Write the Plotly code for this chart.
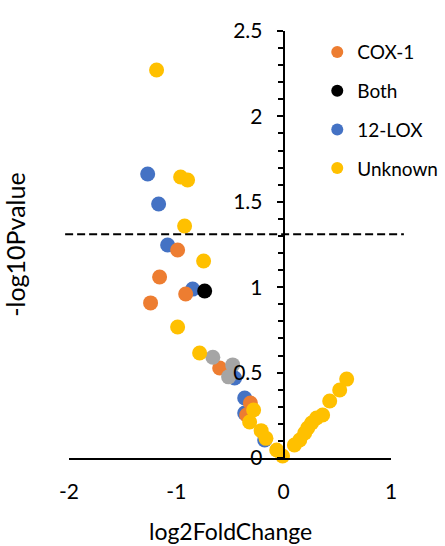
import plotly.graph_objects as go

# ---- data ----
cox1_x = [-0.988, -1.156, -1.240, -0.913, -0.596, -0.310, -0.345]
cox1_y = [1.218, 1.060, 0.908, 0.960, 0.527, 0.322, 0.252]

both_x = [-0.736]
both_y = [0.978]

lox12_x = [-1.267, -1.165, -1.081, -0.848, -0.457, -0.363, -0.363, -0.177]
lox12_y = [1.663, 1.487, 1.247, 0.989, 0.468, 0.351, 0.263, 0.105]

other_x = [-0.660, -0.475, -0.513]
other_y = [0.590, 0.545, 0.475]

unknown_x = [-1.184, -0.960, -0.895, -0.923, -0.746, -0.988, -0.783, -0.280, -0.317,
             -0.210, -0.165, -0.065, -0.010, 0.100, 0.150, 0.196, 0.224, 0.260, 0.306,
             0.363, 0.429, 0.522, 0.587]
unknown_y = [2.272, 1.645, 1.628, 1.358, 1.153, 0.767, 0.615, 0.281, 0.211,
             0.160, 0.115, 0.047, 0.012, 0.076, 0.105, 0.146, 0.176, 0.205, 0.234,
             0.252, 0.334, 0.398, 0.462]

threshold = 1.31
x_ticks = [-2, -1, 0, 1]
x_tick_labels = ["-2", "-1", "0", "1"]
y_ticks = [0, 0.5, 1, 1.5, 2, 2.5]
y_tick_labels = ["0", "0.5", "1", "1.5", "2", "2.5"]

FONT = "Lato, Carlito, 'Liberation Sans', sans-serif"
MS = 15

fig = go.Figure()

def add(x, y, name, color, rank, show=True):
    fig.add_trace(go.Scatter(
        x=x, y=y, mode="markers", name=name,
        marker=dict(size=MS, color=color, line=dict(width=0)),
        legendgroup=name, legendrank=rank, showlegend=show,
        cliponaxis=False,
    ))

add(lox12_x, lox12_y, "12-LOX", "#4472C4", 3)
add(cox1_x, cox1_y, "COX-1", "#ED7D31", 1)
add(both_x, both_y, "Both", "#000000", 2)
add(other_x, other_y, "Other", "#A5A5A5", 5, show=False)
add(unknown_x, unknown_y, "Unknown", "#FFC000", 4)

fig.add_shape(type="line", xref="paper", yref="paper",
              x0=-0.012, x1=1.04, y0=threshold / 2.5, y1=threshold / 2.5,
              line=dict(color="black", width=2, dash="8px,4px"))

fig.update_layout(
    template="none",
    width=445, height=546,
    margin=dict(l=69, r=54, t=31, b=88, autoexpand=False),
    paper_bgcolor="white", plot_bgcolor="white",
    font=dict(family=FONT, color="black"),
    showlegend=True,
    legend=dict(x=0.771, y=0.995, xanchor="left", yanchor="top",
                font=dict(size=19, family=FONT), itemsizing="constant",
                tracegroupgap=11, bgcolor="rgba(0,0,0,0)"),
    xaxis=dict(range=[-2, 1], tickvals=x_ticks, ticktext=x_tick_labels,
               showgrid=False, zeroline=False, automargin=False,
               showline=True, linecolor="black", linewidth=2, ticks="",
               tickfont=dict(size=21), ticklabelstandoff=14),
    yaxis=dict(range=[0, 2.5], tickvals=y_ticks, ticktext=y_tick_labels,
               showgrid=False, zeroline=False, automargin=False,
               showline=True, linecolor="black", linewidth=2,
               anchor="free", position=2/3, side="left",
               ticks="outside", ticklen=6, tickwidth=2, tickcolor="black",
               minor=dict(dtick=0.1, ticks="outside", ticklen=5, tickwidth=2,
                          tickcolor="black", showgrid=False),
               tickfont=dict(size=21), ticklabelstandoff=10),
    annotations=[
        dict(text="log2FoldChange", xref="paper", yref="paper", x=0.5, y=-0.172,
             xanchor="center", yanchor="middle", showarrow=False,
             font=dict(size=23, family=FONT)),
        dict(text="-log10Pvalue", xref="paper", yref="paper", x=-0.17, y=0.5,
             xanchor="center", yanchor="middle", showarrow=False, textangle=-90,
             font=dict(size=25, family=FONT)),
    ],
)

fig.write_html("out.html", config={"displayModeBar": False},
               post_script="document.body.style.margin='0';")
